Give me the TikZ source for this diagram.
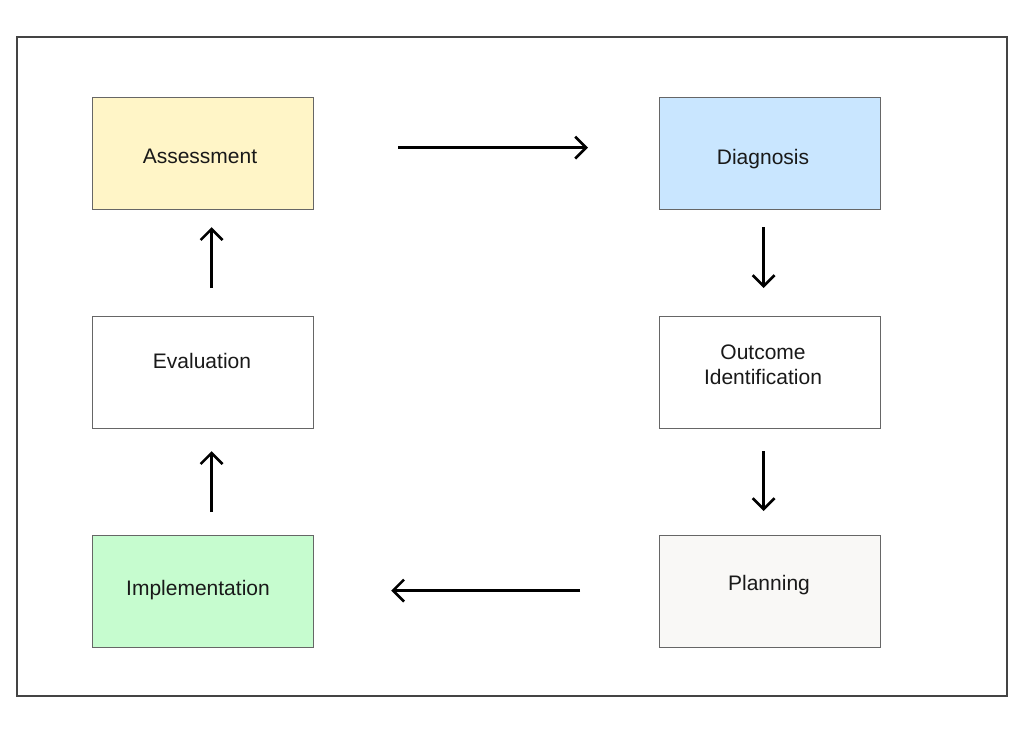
\documentclass[tikz,border=0pt]{standalone}
\usepackage{fontspec}
\setmainfont{Liberation Sans}
\usetikzlibrary{arrows.meta}
\definecolor{frameC}{HTML}{444444}
\definecolor{boxC}{HTML}{666666}
\definecolor{yellowF}{HTML}{FFF5C7}
\definecolor{blueF}{HTML}{C9E6FF}
\definecolor{greenF}{HTML}{C6FCCF}
\definecolor{greyF}{HTML}{F9F8F6}
\begin{document}
\begin{tikzpicture}[x=1pt,y=-1pt,
  stepbox/.style={draw=boxC,line width=1.2pt,minimum width=221pt,minimum height=112pt,inner sep=0pt,anchor=north west},
  lbl/.style={font=\fontsize{21}{25}\selectfont,align=center,text=black!90},
  flow/.style={line width=2.6pt,-{Straight Barb[length=11pt,width=22pt,line width=2.6pt]}}]
\useasboundingbox (0,0) rectangle (1024,734);
\fill[white] (0,0) rectangle (1024,734);
\draw[frameC,line width=1.2pt] (17,37) rectangle (1007,696);
\node[stepbox,fill=yellowF] (a) at (92,97) {};
\node[stepbox,fill=blueF] (d) at (659,97) {};
\node[stepbox,fill=white] (e) at (92,316) {};
\node[stepbox,fill=white] (o) at (659,316) {};
\node[stepbox,fill=greenF] (i) at (92,535) {};
\node[stepbox,fill=greyF] (p) at (659,535) {};
\node[lbl] (ta) at (200,156) {Assessment};
\node[lbl] (td) at (763,159) {Diagnosis};
\node[lbl] (te) at (202,361) {Evaluation};
\node[lbl] (to) at (763,365) {Outcome\\Identification};
\node[lbl] (tp) at (769,585) {Planning};
\node[lbl] (ti) at (198,590) {Implementation};
\draw[flow,shorten <=84pt,shorten >=71pt] ([yshift=6pt]a.east) -- ([yshift=6pt]d.west);
\draw[flow,shorten <=17pt,shorten >=28pt] ([xshift=-6.5pt]d.south) -- ([xshift=-6.5pt]o.north);
\draw[flow,shorten <=22pt,shorten >=24pt] ([xshift=-6.5pt]o.south) -- ([xshift=-6.5pt]p.north);
\draw[flow,shorten <=79pt,shorten >=77pt] ([yshift=1pt]p.west) -- ([yshift=1pt]i.east);
\draw[flow,shorten <=23pt,shorten >=22pt] ([xshift=8.5pt]i.north) -- ([xshift=8.5pt]e.south);
\draw[flow,shorten <=28pt,shorten >=17pt] ([xshift=8.5pt]e.north) -- ([xshift=8.5pt]a.south);
\end{tikzpicture}
\end{document}
